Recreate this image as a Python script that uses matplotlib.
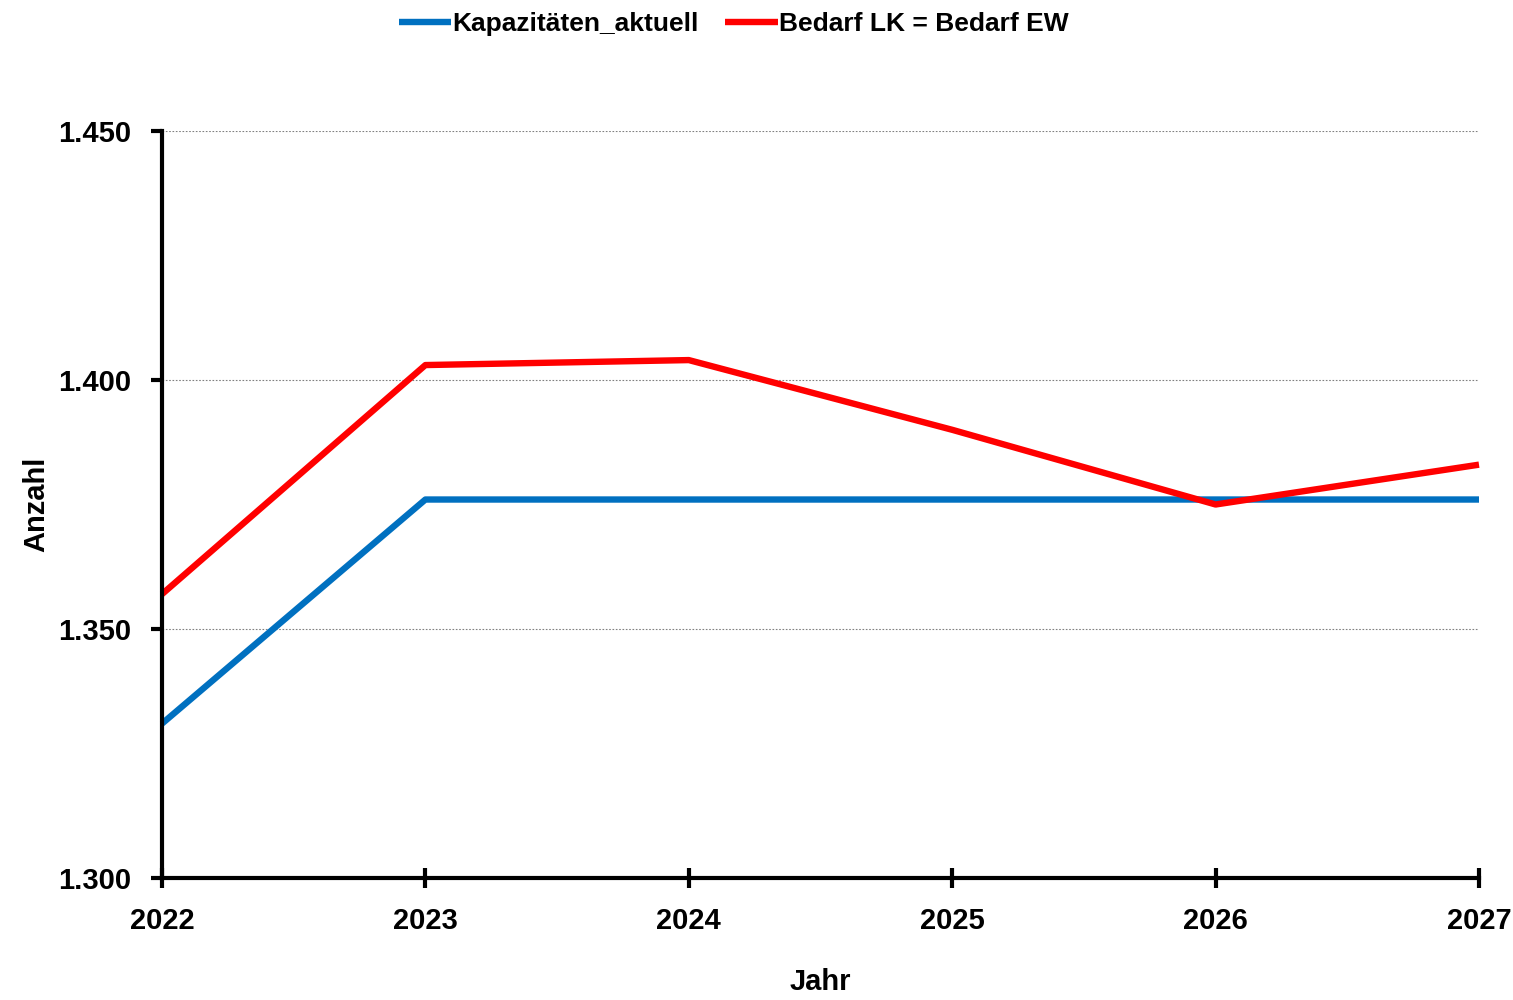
import matplotlib
matplotlib.use("Agg")
import matplotlib.pyplot as plt
from matplotlib.ticker import FuncFormatter

# Daten
jahre = [2022, 2023, 2024, 2025, 2026, 2027]
kapazitaeten = [1331, 1376, 1376, 1376, 1376, 1376]
bedarf = [1357, 1403, 1404, 1390, 1375, 1383]
y_ticks = [1300, 1350, 1400, 1450]

plt.rcParams['font.family'] = ['Liberation Sans Narrow', 'Liberation Sans', 'DejaVu Sans']
plt.rcParams['font.weight'] = 'bold'
plt.rcParams['axes.labelweight'] = 'bold'
plt.rcParams['font.size'] = 21

fig = plt.figure(figsize=(15.13, 10), dpi=100)
ax = fig.add_axes([162/1513, 0.122, (1479-162)/1513, 0.747])

ax.plot(jahre, kapazitaeten, color='#0070C0', lw=4.6, label='Kapazitäten_aktuell',
        clip_on=False, solid_capstyle='butt')
ax.plot(jahre, bedarf, color='#FF0000', lw=4.6, label='Bedarf LK = Bedarf EW',
        clip_on=False, solid_capstyle='butt')

ax.set_xlim(2022, 2027)
ax.set_ylim(1300, 1450)
ax.set_xticks(jahre)
ax.set_yticks(y_ticks)
ax.yaxis.set_major_formatter(FuncFormatter(lambda v, p: f"{v/1000:.3f}"))

ax.grid(axis='y', color='#808080', linestyle=(0, (1.5, 1.5)), linewidth=0.8)
ax.set_axisbelow(True)

for s in ['top', 'right']:
    ax.spines[s].set_visible(False)
for s in ['left', 'bottom']:
    ax.spines[s].set_linewidth(3)

ax.tick_params(axis='y', direction='out', length=8, width=3, pad=14)
ax.tick_params(axis='x', direction='inout', length=14, width=3, pad=14)

ax.set_xlabel('Jahr', labelpad=24)
ax.set_ylabel('Anzahl', labelpad=6)

fig.legend(loc='upper center', bbox_to_anchor=(0.485, 1.012), ncol=2, frameon=False,
           fontsize=19, handlelength=2.0, handletextpad=0.05, columnspacing=1.0)

fig.savefig('out.png', dpi=100)
